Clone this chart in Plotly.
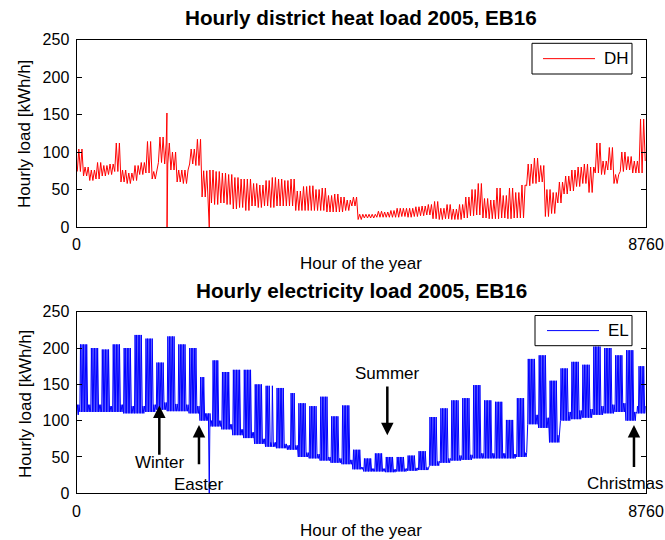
import plotly.graph_objects as go

FONT = "Liberation Sans, Arial, Helvetica, sans-serif"
HOURS = 8760
W, H = 665, 540

# district heat load [kWh/h]: low / high level of every 4-day window
dh_low = [
    74, 68, 62, 64, 68, 70, 74, 60, 58, 62, 70, 72, 64, 86, 84, 76,
    60, 58, 84, 82, 40, 32, 30, 32, 30, 24, 26, 22, 28, 26, 28, 26,
    28, 28, 28, 22, 22, 22, 22, 22, 20, 20, 20, 22, 28, 10, 12, 12,
    13, 13, 13, 13, 14, 13, 14, 15, 16, 11, 10, 11, 10, 10, 12, 15,
    16, 12, 11, 11, 12, 11, 12, 12, 55, 58, 60, 14, 18, 32, 44, 48,
    54, 58, 46, 72, 70, 76, 58, 74, 76, 72, 72, 88,
]
dh_high = [
    104, 80, 76, 86, 82, 84, 112, 76, 72, 82, 86, 114, 74, 120, 112, 100,
    76, 76, 104, 117, 75, 76, 74, 72, 70, 66, 64, 64, 58, 56, 62, 66,
    64, 62, 64, 48, 54, 55, 50, 52, 42, 44, 40, 36, 40, 17, 17, 17,
    21, 20, 22, 25, 25, 25, 27, 28, 30, 34, 25, 30, 24, 30, 40, 50,
    58, 38, 36, 52, 42, 52, 46, 56, 84, 92, 82, 50, 46, 60, 68, 76,
    80, 84, 80, 112, 88, 106, 70, 100, 94, 88, 144, 116,
]
# single-hour outliers
dh_spike_hours = [1391, 1393, 2042]
dh_spike_values = [152, 0, 0]

# electricity load [kWh/h] per calendar week (week 0 = Sat 1 - Sun 2 Jan)
el_weekday_peak = [
    120, 205, 200, 198, 205, 200, 218, 213, 180, 216, 205, 200, 160, 183,
    167, 170, 170, 150, 148, 145, 138, 124, 120, 133, 106, 121, 60, 48,
    55, 50, 50, 52, 58, 105, 117, 128, 131, 149, 128, 126, 101, 131,
    185, 190, 155, 172, 181, 177, 202, 200, 190, 197, 175,
]
el_night = [
    108, 112, 112, 112, 112, 110, 110, 112, 115, 113, 113, 110, 100, 92,
    88, 80, 76, 68, 64, 62, 60, 50, 48, 45, 42, 40, 33, 30,
    30, 29, 30, 31, 32, 38, 42, 45, 46, 48, 48, 48, 48, 50,
    95, 90, 70, 100, 102, 104, 108, 110, 112, 100, 110,
]
el_weekend = [
    122, 122, 122, 120, 122, 120, 120, 122, 125, 123, 122, 120, 110, 100,
    95, 88, 84, 75, 70, 68, 66, 56, 54, 50, 48, 46, 36, 34,
    34, 33, 34, 35, 36, 44, 48, 52, 53, 55, 55, 55, 54, 56,
    108, 104, 80, 112, 114, 116, 120, 122, 124, 112, 120,
]
holidays = [82, 83, 86, 124, 135, 136, 359]  # day of year, 0-based
el_spike_hours = [2042]
el_spike_values = [0]

# (label, label hour, label value, arrow hour, arrow tail, arrow tip)
events = [
    ("Winter", 1274, 42, 1274, 51, 121),
    ("Easter", 1884, 12, 1884, 38, 94),
    ("Summer", 4781, 165, 4781, 149, 80),
    ("Christmas", 8444, 14, 8575, 34, 94),
]

# build the series
dh_pts = []
for d in range(365):
    j = d // 4
    dh_pts.append((24 * d + 12, dh_low[j] if d % 2 == 0 else dh_high[j]))
dh_pts = sorted(dh_pts + list(zip(dh_spike_hours, dh_spike_values)))

el_pts = []
for d in range(365):
    w = (d + 5) // 7
    off = (d + 5) % 7 >= 5 or d in holidays
    el_pts.append((24 * d + 4, el_night[w]))
    el_pts.append((24 * d + 13, el_weekend[w] if off else el_weekday_peak[w]))
el_pts = sorted(el_pts + list(zip(el_spike_hours, el_spike_values)))

fig = go.Figure()
fig.add_trace(go.Scatter(
    x=[p[0] for p in dh_pts], y=[p[1] for p in dh_pts],
    mode="lines", name="DH", line=dict(color="#ff0000", width=1),
    xaxis="x", yaxis="y", showlegend=False,
))
fig.add_trace(go.Scatter(
    x=[p[0] for p in el_pts], y=[p[1] for p in el_pts],
    mode="lines", name="EL", line=dict(color="#0000ff", width=1),
    xaxis="x2", yaxis="y2", showlegend=False,
))

xax = dict(
    range=[0, HOURS], tickvals=[0, HOURS], ticktext=["0", "8760"],
    showline=True, linecolor="black", linewidth=1, mirror=True,
    ticks="inside", ticklen=5, tickcolor="black", showgrid=False,
    zeroline=False, automargin=False, ticklabelstandoff=3,
    tickfont=dict(size=16, color="black"),
    domain=[76.5 / W, 646 / W],
)
yax = dict(
    range=[0, 250], tickvals=[0, 50, 100, 150, 200, 250],
    showline=True, linecolor="black", linewidth=1, mirror="ticks",
    ticks="inside", ticklen=5, tickcolor="black", showgrid=False,
    zeroline=False, automargin=False, ticklabelstandoff=3,
    tickfont=dict(size=16, color="black"),
)

fig.update_layout(
    width=W, height=H,
    margin=dict(l=0, r=0, t=0, b=0),
    paper_bgcolor="white", plot_bgcolor="white",
    font=dict(family=FONT, color="black"),
    showlegend=False,
    xaxis=dict(xax, anchor="y"),
    yaxis=dict(yax, domain=[1 - 227 / H, 1 - 39.5 / H], anchor="x"),
    xaxis2=dict(xax, anchor="y2"),
    yaxis2=dict(yax, domain=[1 - 493.3 / H, 1 - 311.7 / H], anchor="x2"),
)

texts = [
    ("<b>Hourly district heat load 2005, EB16</b>", 361, 18, 20.7, 0),
    ("<b>Hourly electricity load 2005, EB16</b>", 361, 290, 20.7, 0),
    ("Hour of the year", 361, 263, 17, 0),
    ("Hour of the year", 361, 530, 17, 0),
    ("Hourly load [kWh/h]", 25, 134, 17, -90),
    ("Hourly load [kWh/h]", 25, 404, 17, -90),
]
for t, px, py, size, ang in texts:
    fig.add_annotation(
        text=t, x=px / W, y=1 - py / H, xref="paper", yref="paper",
        showarrow=False, xanchor="center", yanchor="middle",
        textangle=ang, font=dict(size=size, color="black"),
    )

# legend boxes (box x0, x1, y0, y1, sample line x0, x1, label, colour)
legends = [
    (532, 632, 43.3, 74, 543, 595, "DH", "#ff0000"),
    (535, 632, 315.5, 345.7, 547, 599, "EL", "#0000ff"),
]
for x0, x1, y0, y1, lx0, lx1, name, col in legends:
    fig.add_shape(type="rect", xref="paper", yref="paper",
                  x0=x0 / W, x1=x1 / W, y0=1 - y1 / H, y1=1 - y0 / H,
                  line=dict(color="black", width=1), fillcolor="white", layer="above")
    ym = 1 - (y0 + y1) / 2 / H
    fig.add_shape(type="line", xref="paper", yref="paper",
                  x0=lx0 / W, x1=lx1 / W, y0=ym, y1=ym,
                  line=dict(color=col, width=1), layer="above")
    fig.add_annotation(text=name, x=(lx1 + 7) / W, y=ym, xref="paper", yref="paper",
                       showarrow=False, xanchor="left", yanchor="middle",
                       font=dict(size=17, color="black"))

for label, lh, ylab, ah, ytail, ytip in events:
    fig.add_annotation(
        x=ah, y=ytip, ax=ah, ay=ytail, xref="x2", yref="y2",
        axref="x2", ayref="y2", text="", showarrow=True,
        arrowhead=2, arrowsize=1, arrowwidth=2.5, arrowcolor="black",
    )
    fig.add_annotation(
        x=lh, y=ylab, xref="x2", yref="y2", text=label, showarrow=False,
        font=dict(size=17, color="black"), xanchor="center", yanchor="middle",
    )

# drop the default 8 px body margin so the 665x540 figure fills the page
fig.write_html(
    "out.html",
    config={"displayModeBar": False},
    post_script="document.body.style.margin = '0';",
)
